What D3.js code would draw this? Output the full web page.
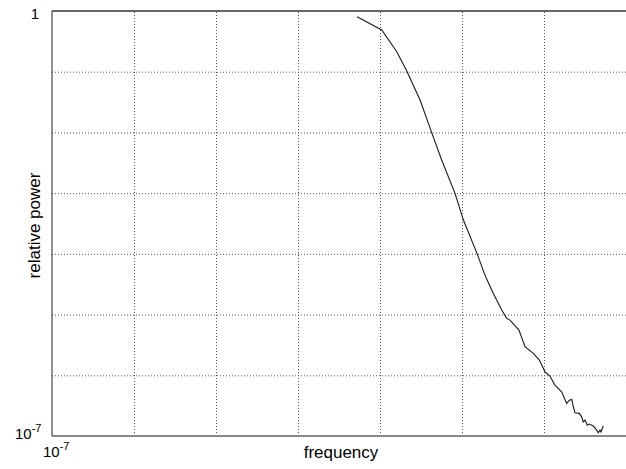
<!DOCTYPE html>
<html>
<head>
<meta charset="utf-8">
<script src="https://cdn.jsdelivr.net/npm/d3@7"></script>
<style>
  body { margin: 0; background: #fff; }
  text { font-family: "Liberation Sans", Arial, sans-serif; }
</style>
</head>
<body>
<div id="chart"></div>
<script>
// spectrum (frequency, relative power)
var freq = [5.25e-4, 1.05e-3, 1.60e-3, 2.12e-3, 3.08e-3, 4.26e-3, 5.65e-3, 8.22e-3, 1.04e-2, 1.54e-2,
  1.87e-2, 2.00e-2, 2.41e-2, 3.05e-2, 3.51e-2, 3.85e-2, 4.95e-2, 5.86e-2, 7.41e-2, 8.77e-2,
  0.1028, 0.118, 0.136, 0.164, 0.189, 0.204, 0.218, 0.228, 0.239, 0.269,
  0.288, 0.301, 0.316, 0.337, 0.356, 0.399, 0.440, 0.459, 0.482, 0.495, 0.528];
var power = [0.805, 0.486, 0.213, 0.103, 3.42e-2, 1.00e-2, 3.51e-3, 9.93e-4, 3.60e-4, 9.82e-5,
  4.77e-5, 3.84e-5, 2.23e-5, 1.19e-5, 8.65e-6, 8.11e-6, 5.55e-6, 2.95e-6, 2.29e-6, 1.78e-6,
  1.14e-6, 9.70e-7, 6.90e-7, 5.35e-7, 3.44e-7, 3.90e-7, 4.01e-7, 3.03e-7, 2.41e-7, 2.36e-7,
  2.07e-7, 1.71e-7, 1.83e-7, 1.51e-7, 1.57e-7, 1.46e-7, 1.25e-7, 1.13e-7, 1.25e-7, 1.17e-7, 1.46e-7];
var decades = [1e-7, 1e-6, 1e-5, 1e-4, 1e-3, 1e-2, 1e-1, 1];

var W = 626, H = 469;
var pLeft = 52, pRight = 626, pTop = 11, pBottom = 436;

var svg = d3.select("#chart").append("svg")
  .attr("width", W)
  .attr("height", H);

var x = d3.scaleLog().domain([1e-7, 1]).range([pLeft, pRight]);
var y = d3.scaleLog().domain([1e-7, 1]).range([pBottom, pTop]);

// grid
svg.append("g")
  .attr("transform", "translate(0," + pBottom + ")")
  .call(d3.axisBottom(x).tickValues(decades.slice(1, -1)).tickSize(-(pBottom - pTop)).tickFormat(""))
  .call(function(g) {
    g.select(".domain").remove();
    g.selectAll("line").attr("stroke", "#555").attr("stroke-dasharray", "1,2");
  });

svg.append("g")
  .attr("transform", "translate(" + pLeft + ",0)")
  .call(d3.axisLeft(y).tickValues(decades.slice(1, -1)).tickSize(-(pRight - pLeft)).tickFormat(""))
  .call(function(g) {
    g.select(".domain").remove();
    g.selectAll("line").attr("stroke", "#555").attr("stroke-dasharray", "1,2");
  });

// frame
svg.append("line")
  .attr("x1", pLeft).attr("x2", pRight).attr("y1", pTop).attr("y2", pTop)
  .attr("stroke", "#666").attr("stroke-width", 2);
svg.append("line")
  .attr("x1", pLeft).attr("x2", pRight).attr("y1", pBottom).attr("y2", pBottom)
  .attr("stroke", "#888").attr("stroke-width", 2);
svg.append("line")
  .attr("x1", pLeft).attr("x2", pLeft).attr("y1", pTop).attr("y2", pBottom)
  .attr("stroke", "#222").attr("stroke-width", 1);

// curve
var line = d3.line()
  .x(function(d, i) { return x(freq[i]); })
  .y(function(d, i) { return y(power[i]); });

svg.append("path")
  .datum(freq)
  .attr("d", line)
  .attr("fill", "none")
  .attr("stroke", "#1a1a1a")
  .attr("stroke-width", 1.1);

// tick labels
svg.append("text")
  .attr("x", pLeft - 13).attr("y", y(1) + 8)
  .attr("text-anchor", "end")
  .style("font-size", "15px")
  .text("1");

var yl = svg.append("text")
  .attr("x", 15).attr("y", y(1e-7) + 3)
  .style("font-size", "15px");
yl.append("tspan").text("10");
yl.append("tspan").attr("dy", -7).style("font-size", "11px").text("-7");

var xl = svg.append("text")
  .attr("x", x(1e-7) - 9).attr("y", pBottom + 21)
  .style("font-size", "15px");
xl.append("tspan").text("10");
xl.append("tspan").attr("dy", -7).style("font-size", "11px").text("-7");

// axis titles
svg.append("text")
  .attr("x", (pLeft + pRight) / 2 + 2).attr("y", 458)
  .attr("text-anchor", "middle")
  .style("font-size", "17px")
  .text("frequency");

svg.append("text")
  .attr("transform", "translate(40," + ((pTop + pBottom) / 2 + 2) + ") rotate(-90)")
  .attr("text-anchor", "middle")
  .style("font-size", "17px")
  .text("relative power");
</script>
</body>
</html>
